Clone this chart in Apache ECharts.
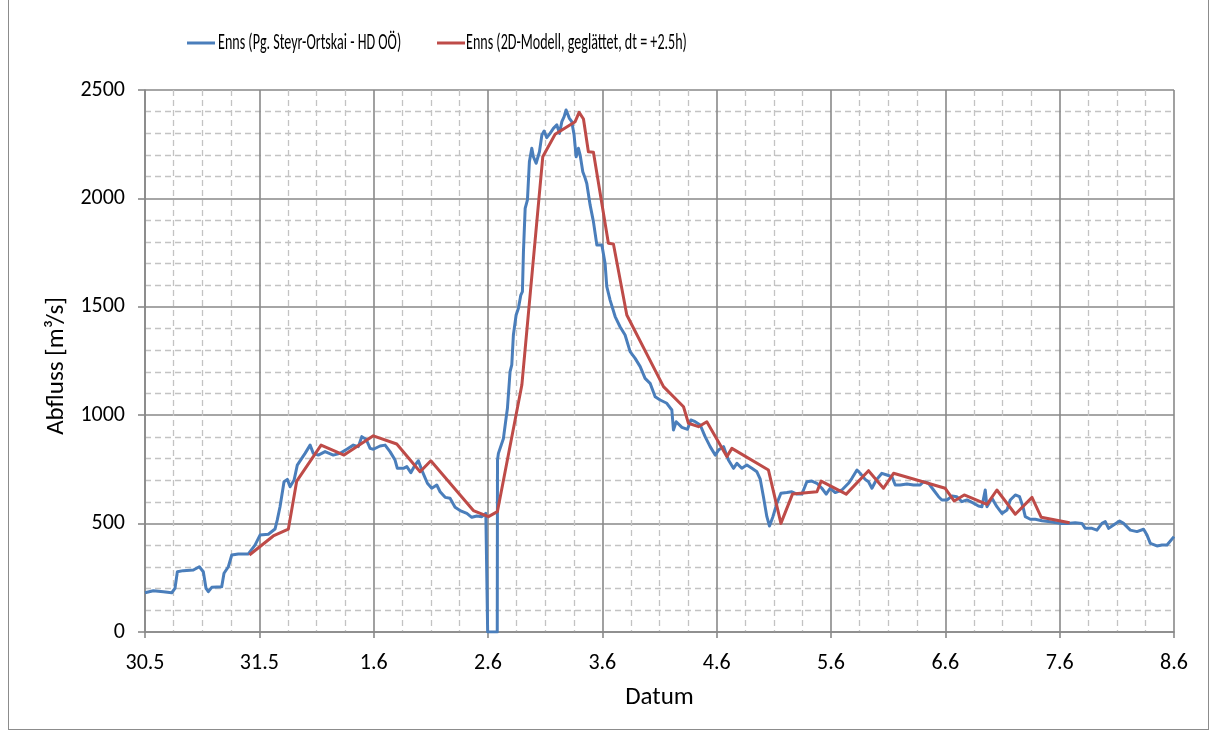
<!DOCTYPE html>
<html>
<head>
<meta charset="utf-8">
<script src="https://cdn.jsdelivr.net/npm/echarts@6/dist/echarts.min.js"></script>
<style>
  html, body { margin: 0; padding: 0; background: #fff; }
  #frame { position: absolute; left: 8px; top: -1px; width: 1201px; height: 731px; border: 1px solid #8c8c8c; box-sizing: border-box; }
  #chart { position: absolute; left: 0; top: 0; width: 1213px; height: 737px; }
</style>
</head>
<body>
<div id="frame"></div>
<div id="chart"></div>
<script>
// Day labels on the time axis (0 = 30.5. 00:00, one unit = one day)
const dateLabels = ['30.5', '31.5', '1.6', '2.6', '3.6', '4.6', '5.6', '6.6', '7.6', '8.6'];

// Gauge Steyr-Ortskai (HD OÖ): time in days since 30.5., discharge in m³/s
const obsTime = [
  0.000, 0.073, 0.160, 0.234, 0.262, 0.283, 0.335, 0.423, 0.475, 0.510, 0.534, 0.554, 0.584, 0.671, 0.691, 0.729,
  0.759, 0.816, 0.904, 0.962, 1.006, 1.079, 1.137, 1.157, 1.181, 1.216, 1.245, 1.269, 1.304, 1.332, 1.371, 1.400,
  1.444, 1.472, 1.516, 1.575, 1.647, 1.706, 1.765, 1.822, 1.866, 1.896, 1.934, 1.969, 1.997, 2.056, 2.100, 2.143,
  2.187, 2.207, 2.260, 2.290, 2.325, 2.362, 2.391, 2.421, 2.470, 2.508, 2.552, 2.581, 2.625, 2.668, 2.712, 2.756,
  2.815, 2.858, 2.902, 2.946, 2.981, 2.995, 2.997, 3.081, 3.083, 3.091, 3.135, 3.158, 3.170, 3.193, 3.208, 3.222,
  3.246, 3.266, 3.287, 3.301, 3.310, 3.325, 3.345, 3.362, 3.383, 3.397, 3.421, 3.450, 3.471, 3.491, 3.514, 3.543,
  3.572, 3.602, 3.625, 3.646, 3.666, 3.683, 3.698, 3.712, 3.733, 3.753, 3.771, 3.791, 3.806, 3.829, 3.850, 3.864,
  3.893, 3.922, 3.952, 3.996, 4.024, 4.039, 4.068, 4.112, 4.155, 4.199, 4.243, 4.287, 4.331, 4.374, 4.418, 4.462,
  4.506, 4.564, 4.608, 4.622, 4.646, 4.696, 4.745, 4.774, 4.812, 4.856, 4.899, 4.943, 4.987, 5.016, 5.060, 5.103,
  5.147, 5.177, 5.220, 5.264, 5.308, 5.352, 5.381, 5.409, 5.439, 5.462, 5.492, 5.527, 5.562, 5.614, 5.658, 5.702,
  5.745, 5.789, 5.833, 5.877, 5.920, 5.958, 5.993, 6.037, 6.095, 6.153, 6.183, 6.227, 6.255, 6.299, 6.328, 6.358,
  6.396, 6.445, 6.489, 6.533, 6.562, 6.605, 6.664, 6.722, 6.780, 6.809, 6.853, 6.897, 6.941, 6.970, 7.014, 7.058,
  7.101, 7.145, 7.189, 7.247, 7.290, 7.320, 7.349, 7.364, 7.408, 7.451, 7.495, 7.539, 7.568, 7.612, 7.649, 7.679,
  7.699, 7.743, 7.787, 7.845, 7.918, 8.005, 8.064, 8.136, 8.195, 8.224, 8.283, 8.326, 8.370, 8.399, 8.428, 8.471,
  8.524, 8.559, 8.618, 8.676, 8.734, 8.764, 8.793, 8.851, 8.895, 8.939, 9.000
];
const obsFlow = [
  181, 190, 186, 181, 201, 278, 283, 286, 301, 278, 201, 186, 206, 209, 271, 301,
  355, 360, 360, 401, 447, 451, 475, 517, 578, 693, 704, 670, 701, 770, 801, 824,
  862, 824, 816, 832, 816, 824, 843, 862, 855, 901, 889, 847, 843, 858, 862, 832,
  793, 755, 755, 763, 735, 770, 790, 747, 686, 663, 678, 647, 621, 617, 575, 560,
  547, 529, 535, 532, 547, 540, 0, 0, 793, 824, 893, 986, 1032, 1201, 1232, 1370,
  1462, 1493, 1554, 1570, 1754, 1954, 1993, 2169, 2231, 2192, 2162, 2215, 2292, 2311, 2280, 2300,
  2323, 2339, 2300, 2354, 2377, 2408, 2416, 2369, 2354, 2292, 2192, 2231, 2200, 2123, 2093, 2069,
  1970, 1893, 1785, 1785, 1700, 1593, 1531, 1455, 1408, 1370, 1293, 1262, 1224, 1170, 1147, 1085,
  1070, 1055, 1024, 932, 970, 944, 935, 978, 970, 955, 901, 855, 816, 839, 855, 793,
  755, 778, 755, 770, 755, 739, 705, 624, 532, 489, 532, 594, 640, 643, 647, 636,
  636, 693, 696, 686, 663, 636, 663, 643, 655, 686, 709, 747, 732, 704, 693, 663,
  701, 732, 724, 716, 678, 678, 683, 678, 678, 693, 686, 655, 624, 609, 609, 627,
  624, 601, 609, 594, 581, 578, 655, 578, 617, 578, 547, 563, 609, 632, 624, 578,
  532, 520, 520, 513, 509, 501, 501, 504, 501, 478, 478, 470, 501, 509, 478, 494,
  512, 501, 470, 463, 474, 447, 409, 397, 401, 401, 440
];

// 2D model, smoothed and shifted by +2.5 h
const modelTime = [
  0.913, 1.122, 1.254, 1.327, 1.540, 1.741, 1.997, 2.202, 2.406, 2.500, 2.872, 3.004, 3.082, 3.296, 3.479, 3.587,
  3.762, 3.797, 3.835, 3.878, 3.922, 4.053, 4.097, 4.214, 4.535, 4.710, 4.753, 4.841, 4.914, 5.089, 5.133, 5.453,
  5.562, 5.663, 5.877, 5.914, 6.133, 6.328, 6.459, 6.547, 6.999, 7.078, 7.165, 7.364, 7.451, 7.612, 7.758, 7.839,
  8.087
];
const modelFlow = [
  355, 443, 475, 696, 862, 816, 905, 867, 739, 790, 560, 532, 555, 1139, 2192, 2296,
  2354, 2397, 2366, 2215, 2213, 1793, 1790, 1462, 1132, 1039, 963, 947, 970, 809, 847, 747,
  501, 636, 647, 696, 636, 744, 663, 732, 663, 604, 632, 589, 655, 543, 621, 529,
  504
];

const seriesNames = [
  'Enns (Pg. Steyr-Ortskai - HD OÖ)',
  'Enns (2D-Modell, geglättet, dt = +2.5h)'
];
const seriesColors = ['#4a7ebb', '#be4b48'];
const yAxisTitle = 'Abfluss [m³/s]';
const xAxisTitle = 'Datum';

const FONT = "Carlito, Lato, 'Open Sans', sans-serif";
const pairs = (xs, ys) => xs.map((x, i) => [x, ys[i]]);

const chart = echarts.init(document.getElementById('chart'), null, { renderer: 'canvas' });

const majorLine = { show: true, lineStyle: { color: '#898989', width: 1.6 } };
const minorLine = { show: true, lineStyle: { color: '#c3c3c3', width: 1.3, type: [6, 4] } };

// Legend: short line key followed by a condensed label
const legendKeys = [
  { x: 187, textX: 218 },
  { x: 437, textX: 466 }
];
const titleGraphics = [];
legendKeys.forEach((k, i) => {
  titleGraphics.push({
    type: 'line',
    shape: { x1: k.x, y1: 43, x2: k.x + 28, y2: 43 },
    style: { stroke: seriesColors[i], lineWidth: 3 }
  });
  titleGraphics.push({
    type: 'text',
    x: k.textX,
    y: 43,
    scaleX: 0.64,
    style: {
      text: seriesNames[i],
      fontFamily: FONT,
      fontSize: 22,
      fill: '#000',
      align: 'left',
      verticalAlign: 'middle'
    }
  });
});
// Vertical axis title, set close to the tick labels
titleGraphics.push({
  type: 'text',
  x: 57,
  y: 366,
  rotation: Math.PI / 2,
  style: {
    text: yAxisTitle,
    fontFamily: FONT,
    fontSize: 25,
    fill: '#000',
    align: 'center',
    verticalAlign: 'middle'
  }
});

chart.setOption({
  animation: false,
  backgroundColor: 'transparent',
  textStyle: { fontFamily: FONT },
  graphic: titleGraphics,
  grid: { left: 145, right: 39, top: 90, bottom: 105, containLabel: false },
  xAxis: {
    type: 'value',
    min: 0,
    max: 9,
    interval: 1,
    name: xAxisTitle,
    nameLocation: 'middle',
    nameGap: 53,
    nameTextStyle: { fontFamily: FONT, fontSize: 25, color: '#000' },
    axisLine: { onZero: false, lineStyle: { color: '#898989', width: 1.6 } },
    axisTick: { show: true, length: 6, lineStyle: { color: '#898989', width: 1.6 } },
    minorTick: { show: true, splitNumber: 4, length: 0, lineStyle: { color: 'transparent' } },
    splitLine: majorLine,
    minorSplitLine: minorLine,
    axisLabel: {
      margin: 20,
      fontFamily: FONT,
      fontSize: 22,
      color: '#000',
      formatter: v => dateLabels[Math.round(v)]
    }
  },
  yAxis: {
    type: 'value',
    min: 0,
    max: 2500,
    interval: 500,
    axisLine: { show: true, lineStyle: { color: '#898989', width: 1.6 } },
    axisTick: { show: true, length: 7, lineStyle: { color: '#898989', width: 1.6 } },
    minorTick: { show: true, splitNumber: 5, length: 0, lineStyle: { color: 'transparent' } },
    splitLine: majorLine,
    minorSplitLine: minorLine,
    axisLabel: { margin: 20, fontFamily: FONT, fontSize: 22, color: '#000', formatter: v => String(v) }
  },
  series: [
    {
      name: seriesNames[0],
      type: 'line',
      data: pairs(obsTime, obsFlow),
      showSymbol: false,
      symbol: 'none',
      lineStyle: { color: seriesColors[0], width: 3, join: 'round' },
      itemStyle: { color: seriesColors[0] },
      z: 3
    },
    {
      name: seriesNames[1],
      type: 'line',
      data: pairs(modelTime, modelFlow),
      showSymbol: false,
      symbol: 'none',
      lineStyle: { color: seriesColors[1], width: 3, join: 'round' },
      itemStyle: { color: seriesColors[1] },
      z: 4
    }
  ]
});
</script>
</body>
</html>
